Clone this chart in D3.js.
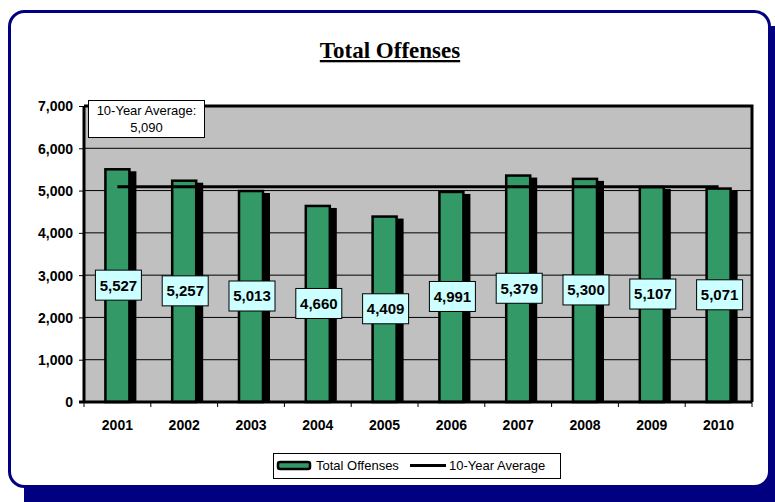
<!DOCTYPE html>
<html><head><meta charset="utf-8">
<script src="https://cdn.jsdelivr.net/npm/d3@7"></script>
<style>body{margin:0;background:#fff;}svg{display:block;}</style>
</head><body>
<svg id="c" width="775" height="502"></svg>
<script>
const years = ["2001","2002","2003","2004","2005","2006","2007","2008","2009","2010"];
const offenses = [5527,5257,5013,4660,4409,4991,5379,5300,5107,5071];
const average = 5090;
const yTicks = [0,1000,2000,3000,4000,5000,6000,7000];
const title = "Total Offenses";
const avgLabel = ["10-Year Average:", "5,090"];
const legendLabels = ["Total Offenses", "10-Year Average"];

const SANS = "Liberation Sans, Arial, sans-serif";
const SERIF = "Liberation Serif, Times New Roman, serif";
const svg = d3.select("#c");
const fmt = d3.format(",");

// frame with shadow
svg.append("rect").attr("x",24).attr("y",26).attr("width",770).attr("height",490).attr("rx",15).attr("fill","#000080");
svg.append("rect").attr("x",9.5).attr("y",11.5).attr("width",760).attr("height",475).attr("rx",15)
  .attr("fill","#fff").attr("stroke","#000080").attr("stroke-width",3);

// title
svg.append("text").attr("x",390).attr("y",58).attr("text-anchor","middle")
  .style("font-family",SERIF).attr("font-weight","bold")
  .attr("font-size",23).attr("text-decoration","underline").text(title);

const L=84, R=752, T=106, B=402;
const x = d3.scaleBand().domain(years).range([L,R]);
const y = d3.scaleLinear().domain([0,7000]).range([B,T]);
const bw = 26;

// plot area
svg.append("rect").attr("x",L).attr("y",T).attr("width",R-L).attr("height",B-T).attr("fill","#C0C0C0");
svg.append("g").selectAll("line").data(yTicks.slice(1,-1)).join("line")
  .attr("x1",L).attr("x2",R).attr("y1",d=>y(d)).attr("y2",d=>y(d)).attr("stroke","#000").attr("stroke-width",1);
svg.append("path").attr("d",`M${L},${T}H${R}V${B}`).attr("fill","none").attr("stroke","#000").attr("stroke-width",3);

// bars
const cx = d=>x(d)+x.bandwidth()/2;
const g = svg.append("g");
g.selectAll("rect.sh").data(years).join("rect").attr("class","sh")
  .attr("x",(d,i)=>cx(d)-bw/2+6).attr("y",(d,i)=>y(offenses[i])+3)
  .attr("width",bw).attr("height",(d,i)=>B-y(offenses[i])-3).attr("fill","#000");
g.selectAll("rect.bar").data(years).join("rect").attr("class","bar")
  .attr("x",(d,i)=>cx(d)-bw/2+1).attr("y",(d,i)=>y(offenses[i])+1)
  .attr("width",bw-2).attr("height",(d,i)=>B-y(offenses[i])-1)
  .attr("fill","#339966").attr("stroke","#000").attr("stroke-width",2.5);

// average line
const line = d3.line().x(d=>cx(d)).y(()=>y(average));
svg.append("path").datum(years).attr("d",line).attr("stroke","#000").attr("stroke-width",3).attr("fill","none");

// axes
const yAxis = d3.axisLeft(y).tickValues(yTicks).tickFormat(fmt).tickSize(5).tickPadding(6);
const ya = svg.append("g").attr("transform",`translate(${L},0)`).call(yAxis);
ya.attr("font-family",null).attr("font-size",null);
ya.select(".domain").attr("stroke-width",3).attr("d",`M0,${T}V${B}`);
ya.selectAll("text").style("font-family",SANS).attr("font-weight","bold").attr("font-size",14).attr("fill","#000").attr("dy","0.35em");
ya.selectAll(".tick line").attr("stroke","#000");

const xa = svg.append("g").attr("transform",`translate(0,${B})`);
xa.append("line").attr("x1",L-5).attr("x2",R).attr("stroke","#000").attr("stroke-width",3);
xa.selectAll("line.tk").data(years.concat(["end"])).join("line").attr("class","tk")
  .attr("x1",(d,i)=>L+i*x.bandwidth()).attr("x2",(d,i)=>L+i*x.bandwidth()).attr("y1",0).attr("y2",5).attr("stroke","#000");
xa.selectAll("text").data(years).join("text").attr("x",d=>cx(d)).attr("y",28).attr("text-anchor","middle")
  .style("font-family",SANS).attr("font-weight","bold").attr("font-size",14).text(d=>d);

// data labels
const lab = svg.append("g").selectAll("g").data(years).join("g")
  .attr("transform",(d,i)=>`translate(${cx(d)+1},${y(offenses[i]/2)})`);
lab.append("rect").attr("x",-23).attr("y",-15).attr("width",46).attr("height",30).attr("fill","#CCFFFF").attr("stroke","#000").attr("stroke-width",1);
lab.append("text").attr("text-anchor","middle").attr("dy","0.36em").style("font-family",SANS)
  .attr("font-weight","bold").attr("font-size",15).text((d,i)=>fmt(offenses[i]));

// annotation
svg.append("rect").attr("x",88.5).attr("y",100.5).attr("width",116).attr("height",37).attr("fill","#fff").attr("stroke","#000").attr("stroke-width",1);
svg.append("g").selectAll("text").data(avgLabel).join("text").attr("x",146.5).attr("y",(d,i)=>115+i*17).attr("text-anchor","middle")
  .style("font-family",SANS).attr("font-size",13).text(d=>d);

// legend
const lg = svg.append("g");
lg.append("rect").attr("x",273.5).attr("y",453.5).attr("width",287).attr("height",25).attr("fill","#fff").attr("stroke","#000").attr("stroke-width",1);
lg.append("rect").attr("x",278).attr("y",462).attr("width",32).attr("height",7).attr("rx",2).attr("fill","#339966").attr("stroke","#000").attr("stroke-width",2.5);
lg.append("text").attr("x",316).attr("y",470).style("font-family",SANS).attr("font-size",13).text(legendLabels[0]);
lg.append("line").attr("x1",410).attr("x2",446).attr("y1",465.5).attr("y2",465.5).attr("stroke","#000").attr("stroke-width",3);
lg.append("text").attr("x",449).attr("y",470).style("font-family",SANS).attr("font-size",13).text(legendLabels[1]);
</script>
</body></html>
